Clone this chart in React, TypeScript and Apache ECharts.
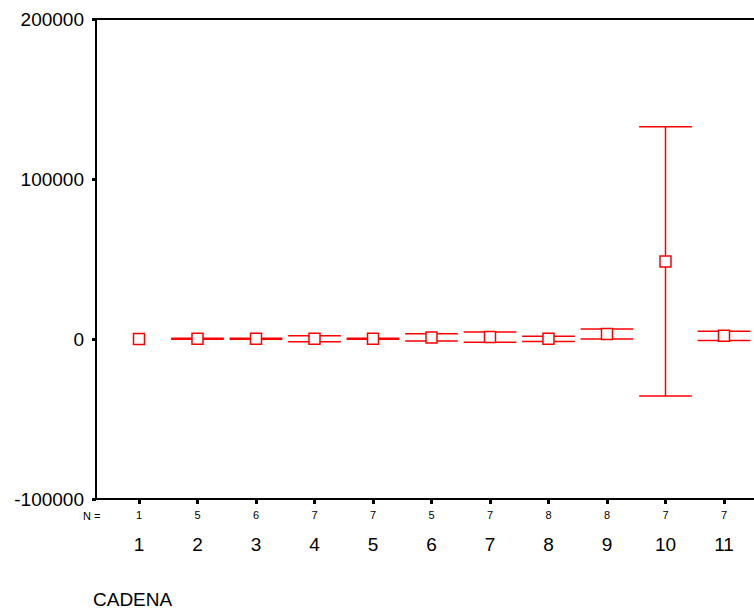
import React, { useEffect, useRef } from "react";
import * as echarts from "echarts";

// CADENA groups with group size, mean and error-bar limits
const categories = [1, 2, 3, 4, 5, 6, 7, 8, 9, 10, 11];
const nCounts = [1, 5, 6, 7, 7, 5, 7, 8, 8, 7, 7];
const means = [0, 200, 100, 200, 100, 1000, 1200, 100, 3100, 48500, 2000];
const lowerLimits = [0, -100, -200, -1700, -200, -1300, -2100, -1600, 0, -35700, -900];
const upperLimits = [0, 500, 400, 2100, 400, 3300, 4400, 1700, 6200, 132700, 4800];
const yTicks = [-100000, 0, 100000, 200000];

const RED = "#ff0000";
const FONT = "'Liberation Sans', Arial, sans-serif";

export default function App() {
  const ref = useRef<HTMLDivElement>(null);

  useEffect(() => {
    document.body.style.margin = "0";
    if (!ref.current) return;
    const chart = echarts.init(ref.current, null, { renderer: "svg" });

    const data = categories.map((c, i) => [c, means[i], lowerLimits[i], upperLimits[i]]);

    const renderItem = (params: any, api: any) => {
      const x = api.value(0);
      const center = api.coord([x, api.value(1)]);
      const lo = api.coord([x, api.value(2)]);
      const hi = api.coord([x, api.value(3)]);
      const half = api.size([1, 0])[0] * 0.45;
      const style = { stroke: RED, lineWidth: 1.5, fill: "none" };
      const children: any[] = [];
      if (Math.abs(lo[1] - hi[1]) > 0.01) {
        children.push(
          { type: "line", shape: { x1: center[0], y1: hi[1], x2: center[0], y2: lo[1] }, style },
          { type: "line", shape: { x1: center[0] - half, y1: hi[1], x2: center[0] + half, y2: hi[1] }, style },
          { type: "line", shape: { x1: center[0] - half, y1: lo[1], x2: center[0] + half, y2: lo[1] }, style }
        );
      }
      children.push({
        type: "rect",
        shape: { x: center[0] - 5.5, y: center[1] - 5.5, width: 11, height: 11 },
        style: { stroke: RED, lineWidth: 1.5, fill: "#ffffff" },
      });
      return { type: "group", children };
    };

    chart.setOption({
      animation: false,
      textStyle: { fontFamily: FONT },
      grid: { left: 96, right: 0, top: 19, bottom: 110, containLabel: false },
      xAxis: [
        {
          type: "value",
          position: "bottom",
          min: 0.265,
          max: 11.513,
          splitLine: { show: false },
          axisLine: { show: true, onZero: false, lineStyle: { color: "#000", width: 2 } },
          axisTick: {
            show: true,
            customValues: categories,
            length: 5,
            lineStyle: { color: "#000", width: 3 },
          },
          axisLabel: {
            show: true,
            customValues: categories,
            margin: 9,
            formatter: (v: number) => {
              const i = categories.indexOf(Math.round(v));
              return `{n|${nCounts[i]}}\n{c|${categories[i]}}`;
            },
            rich: {
              n: { fontSize: 11, lineHeight: 14, color: "#000", fontFamily: FONT },
              c: { fontSize: 19, lineHeight: 44, color: "#000", fontFamily: FONT },
            },
          },
        },
        {
          type: "value",
          position: "top",
          min: 0.265,
          max: 11.513,
          splitLine: { show: false },
          axisLine: { show: true, onZero: false, lineStyle: { color: "#000", width: 2 } },
          axisTick: { show: false },
          axisLabel: { show: false },
        },
      ],
      yAxis: {
        type: "value",
        min: yTicks[0],
        max: yTicks[yTicks.length - 1],
        interval: 100000,
        splitLine: { show: false },
        axisLine: { show: true, onZero: false, lineStyle: { color: "#000", width: 2 } },
        axisTick: { show: true, length: 4, lineStyle: { color: "#000", width: 3 } },
        axisLabel: {
          color: "#000",
          fontSize: 19,
          margin: 12,
          fontFamily: FONT,
          formatter: (v: number) => String(v),
        },
      },
      graphic: [
        {
          type: "text",
          left: 83,
          top: 510,
          style: { text: "N =", fontSize: 11, fill: "#000", fontFamily: FONT },
        },
        {
          type: "text",
          left: 93,
          top: 590,
          style: { text: "CADENA", fontSize: 19, fill: "#000", fontFamily: FONT },
        },
      ],
      series: [
        {
          type: "custom",
          xAxisIndex: 0,
          renderItem,
          data,
          clip: false,
        },
      ],
    });

    return () => chart.dispose();
  }, []);

  return <div ref={ref} style={{ width: 754, height: 609 }} />;
}
